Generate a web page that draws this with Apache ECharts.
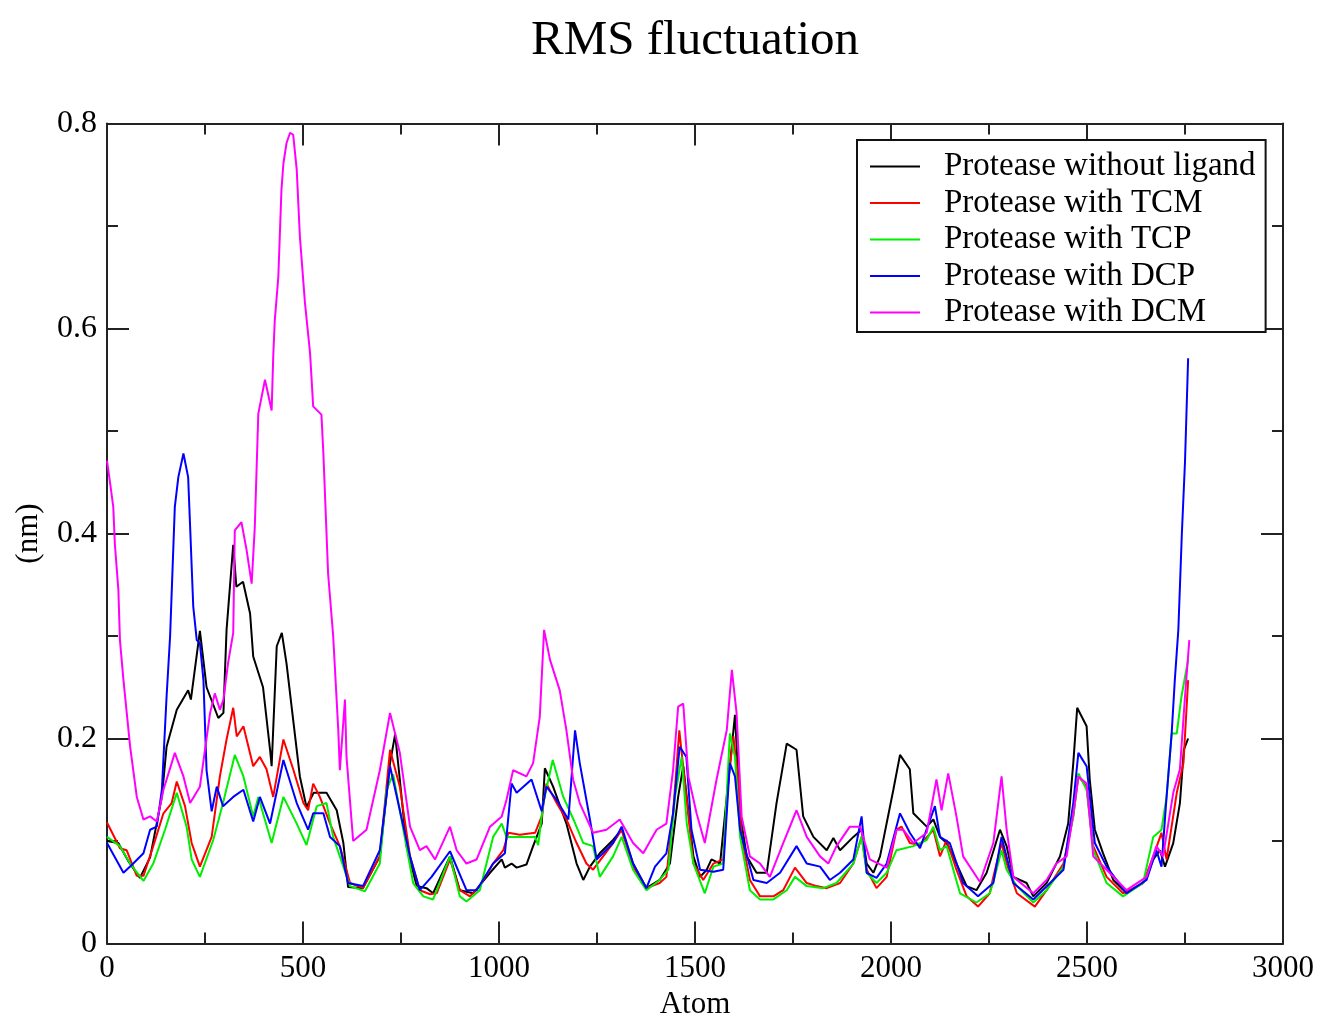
<!DOCTYPE html>
<html>
<head>
<meta charset="utf-8">
<script src="https://cdn.jsdelivr.net/npm/echarts@6/dist/echarts.min.js"></script>
<style>html,body{margin:0;padding:0;background:#fff;}#c{width:1319px;height:1016px;}</style>
</head>
<body>
<div id="c"></div>
<script>
const seriesNames = ["Protease without ligand","Protease with TCM","Protease with TCP","Protease with DCP","Protease with DCM"];
const xTicks = [0,500,1000,1500,2000,2500,3000];
const yTicks = [0,0.2,0.4,0.6,0.8];

const noLigand = [[0,0.100],[29,0.098],[55,0.080],[84,0.064],[110,0.084],[140,0.143],[152,0.192],[178,0.228],[207,0.247],[214,0.238],[237,0.305],[254,0.250],[284,0.220],[297,0.225],[305,0.306],[322,0.389],[330,0.348],[347,0.353],[365,0.322],[373,0.280],[398,0.250],[416,0.189],[420,0.173],[433,0.290],[446,0.303],[458,0.273],[475,0.218],[492,0.163],[509,0.133],[527,0.147],[560,0.147],[586,0.130],[603,0.098],[615,0.055],[653,0.054],[696,0.085],[722,0.176],[735,0.204],[747,0.160],[764,0.095],[790,0.056],[815,0.054],[832,0.049],[875,0.085],[900,0.052],[934,0.049],[977,0.069],[1007,0.082],[1015,0.074],[1032,0.078],[1045,0.074],[1070,0.077],[1087,0.095],[1109,0.117],[1117,0.171],[1138,0.153],[1172,0.117],[1198,0.078],[1215,0.062],[1232,0.075],[1257,0.088],[1291,0.101],[1313,0.111],[1342,0.078],[1376,0.054],[1410,0.062],[1436,0.078],[1457,0.143],[1470,0.173],[1479,0.143],[1496,0.085],[1513,0.065],[1530,0.072],[1542,0.082],[1564,0.078],[1581,0.143],[1602,0.223],[1615,0.127],[1632,0.085],[1657,0.069],[1683,0.069],[1708,0.137],[1734,0.195],[1759,0.189],[1776,0.124],[1802,0.104],[1836,0.091],[1853,0.103],[1870,0.091],[1904,0.104],[1925,0.111],[1938,0.078],[1955,0.069],[1972,0.085],[2006,0.150],[2023,0.184],[2048,0.170],[2057,0.127],[2091,0.114],[2108,0.121],[2125,0.104],[2142,0.098],[2167,0.078],[2193,0.056],[2218,0.052],[2244,0.069],[2278,0.111],[2295,0.095],[2312,0.065],[2346,0.059],[2363,0.046],[2397,0.059],[2431,0.085],[2452,0.117],[2465,0.176],[2475,0.230],[2499,0.212],[2507,0.160],[2520,0.111],[2541,0.088],[2567,0.062],[2601,0.049],[2643,0.059],[2669,0.082],[2686,0.091],[2699,0.075],[2720,0.098],[2737,0.137],[2747,0.189],[2758,0.200]];

const withTCM = [[0,0.118],[33,0.093],[50,0.091],[76,0.066],[93,0.066],[118,0.095],[144,0.127],[165,0.137],[178,0.158],[199,0.134],[216,0.098],[237,0.075],[267,0.104],[288,0.163],[305,0.199],[322,0.230],[331,0.202],[348,0.212],[373,0.173],[390,0.182],[407,0.170],[424,0.143],[450,0.199],[475,0.170],[501,0.137],[513,0.130],[526,0.156],[543,0.143],[569,0.117],[594,0.095],[620,0.059],[653,0.054],[696,0.085],[722,0.189],[747,0.153],[773,0.085],[798,0.052],[824,0.048],[841,0.049],[875,0.082],[900,0.052],[926,0.046],[951,0.056],[985,0.078],[1011,0.091],[1024,0.108],[1053,0.106],[1092,0.108],[1109,0.124],[1121,0.156],[1147,0.137],[1172,0.121],[1198,0.098],[1223,0.078],[1240,0.072],[1291,0.098],[1313,0.111],[1342,0.075],[1376,0.054],[1410,0.059],[1427,0.065],[1444,0.127],[1460,0.208],[1478,0.143],[1496,0.078],[1521,0.062],[1547,0.078],[1572,0.082],[1585,0.160],[1598,0.202],[1610,0.160],[1619,0.104],[1640,0.062],[1666,0.046],[1700,0.046],[1725,0.052],[1755,0.074],[1785,0.059],[1810,0.056],[1836,0.054],[1870,0.059],[1904,0.078],[1925,0.104],[1938,0.072],[1963,0.054],[1989,0.065],[2014,0.111],[2027,0.114],[2048,0.098],[2074,0.096],[2108,0.111],[2125,0.085],[2142,0.101],[2167,0.072],[2193,0.046],[2222,0.036],[2252,0.049],[2261,0.065],[2282,0.098],[2295,0.078],[2321,0.049],[2367,0.036],[2397,0.052],[2440,0.078],[2465,0.124],[2478,0.163],[2499,0.153],[2516,0.095],[2550,0.065],[2592,0.049],[2643,0.059],[2669,0.085],[2690,0.108],[2703,0.082],[2729,0.147],[2746,0.176],[2758,0.257]];

const withTCP = [[0,0.104],[33,0.095],[59,0.078],[93,0.061],[118,0.078],[148,0.111],[178,0.147],[203,0.114],[216,0.082],[237,0.065],[271,0.101],[296,0.137],[326,0.184],[348,0.163],[373,0.124],[386,0.143],[420,0.098],[450,0.143],[484,0.117],[509,0.096],[535,0.134],[560,0.137],[577,0.104],[594,0.085],[620,0.056],[658,0.051],[696,0.078],[713,0.150],[730,0.165],[756,0.111],[781,0.059],[807,0.046],[832,0.043],[875,0.085],[900,0.046],[917,0.041],[951,0.052],[985,0.104],[1007,0.117],[1019,0.104],[1053,0.104],[1092,0.104],[1100,0.096],[1113,0.137],[1137,0.179],[1164,0.143],[1190,0.121],[1215,0.098],[1240,0.095],[1257,0.065],[1291,0.085],[1313,0.104],[1342,0.072],[1376,0.052],[1410,0.062],[1432,0.072],[1449,0.143],[1466,0.182],[1479,0.117],[1496,0.078],[1525,0.049],[1547,0.075],[1572,0.078],[1589,0.205],[1602,0.182],[1615,0.104],[1640,0.052],[1666,0.043],[1700,0.043],[1734,0.052],[1755,0.065],[1785,0.056],[1827,0.054],[1861,0.059],[1904,0.078],[1925,0.104],[1938,0.069],[1963,0.059],[1989,0.069],[2014,0.091],[2057,0.095],[2091,0.101],[2108,0.114],[2125,0.091],[2142,0.095],[2176,0.049],[2218,0.040],[2252,0.049],[2261,0.060],[2282,0.091],[2295,0.072],[2321,0.056],[2363,0.040],[2397,0.052],[2440,0.075],[2465,0.124],[2478,0.166],[2499,0.150],[2516,0.091],[2550,0.059],[2592,0.046],[2643,0.059],[2669,0.104],[2690,0.111],[2703,0.143],[2716,0.205],[2729,0.205],[2741,0.241],[2758,0.277]];

const withDCP = [[0,0.098],[42,0.069],[67,0.078],[93,0.088],[110,0.111],[127,0.114],[140,0.150],[152,0.241],[161,0.300],[173,0.426],[182,0.455],[195,0.478],[207,0.455],[212,0.407],[220,0.329],[229,0.296],[237,0.293],[246,0.257],[254,0.169],[267,0.129],[280,0.153],[296,0.134],[322,0.143],[348,0.150],[373,0.119],[390,0.143],[416,0.117],[450,0.179],[484,0.137],[513,0.111],[526,0.127],[552,0.127],[569,0.104],[594,0.095],[615,0.059],[653,0.056],[696,0.091],[722,0.173],[747,0.130],[773,0.085],[798,0.052],[828,0.065],[875,0.090],[917,0.052],[943,0.052],[985,0.078],[1015,0.088],[1032,0.156],[1045,0.147],[1083,0.160],[1109,0.129],[1121,0.153],[1147,0.140],[1177,0.121],[1194,0.208],[1206,0.176],[1232,0.121],[1249,0.082],[1291,0.098],[1313,0.114],[1342,0.078],[1376,0.054],[1398,0.075],[1427,0.088],[1444,0.127],[1461,0.192],[1478,0.182],[1491,0.111],[1513,0.072],[1547,0.070],[1572,0.072],[1589,0.176],[1602,0.163],[1615,0.111],[1649,0.062],[1683,0.059],[1717,0.069],[1759,0.095],[1785,0.078],[1819,0.075],[1844,0.062],[1870,0.069],[1904,0.082],[1925,0.124],[1938,0.069],[1963,0.064],[1989,0.078],[2023,0.127],[2048,0.108],[2074,0.093],[2112,0.134],[2125,0.104],[2150,0.098],[2184,0.059],[2222,0.046],[2261,0.059],[2282,0.104],[2312,0.059],[2363,0.043],[2440,0.072],[2465,0.137],[2478,0.186],[2499,0.173],[2520,0.098],[2550,0.075],[2601,0.049],[2652,0.062],[2677,0.091],[2690,0.075],[2703,0.143],[2716,0.205],[2724,0.257],[2733,0.306],[2742,0.400],[2750,0.470],[2758,0.571]];

const withDCM = [[0,0.471],[8,0.449],[16,0.426],[20,0.390],[29,0.345],[33,0.296],[42,0.257],[59,0.192],[76,0.143],[93,0.121],[110,0.124],[127,0.119],[144,0.150],[173,0.186],[195,0.163],[212,0.137],[237,0.153],[263,0.225],[275,0.244],[288,0.228],[297,0.238],[309,0.274],[322,0.303],[326,0.403],[343,0.411],[356,0.384],[369,0.351],[377,0.406],[386,0.517],[403,0.550],[420,0.520],[424,0.572],[428,0.608],[437,0.650],[445,0.735],[450,0.761],[458,0.781],[467,0.791],[475,0.789],[484,0.755],[492,0.690],[505,0.625],[518,0.576],[526,0.524],[547,0.516],[552,0.478],[564,0.361],[577,0.300],[590,0.208],[594,0.169],[607,0.238],[611,0.182],[628,0.100],[662,0.111],[696,0.169],[722,0.225],[747,0.186],[773,0.114],[798,0.091],[815,0.095],[837,0.082],[875,0.114],[892,0.091],[917,0.078],[943,0.082],[977,0.114],[1007,0.124],[1019,0.140],[1036,0.169],[1070,0.163],[1087,0.176],[1104,0.221],[1115,0.306],[1130,0.277],[1155,0.247],[1172,0.208],[1189,0.160],[1206,0.137],[1240,0.108],[1274,0.111],[1308,0.121],[1342,0.098],[1368,0.088],[1402,0.111],[1427,0.117],[1444,0.169],[1457,0.231],[1470,0.234],[1483,0.163],[1504,0.127],[1525,0.098],[1555,0.160],[1581,0.208],[1594,0.267],[1606,0.225],[1619,0.124],[1640,0.085],[1666,0.078],[1691,0.065],[1725,0.098],[1759,0.130],[1785,0.104],[1819,0.085],[1840,0.078],[1861,0.095],[1895,0.114],[1921,0.114],[1946,0.082],[1989,0.074],[2014,0.111],[2031,0.111],[2057,0.098],[2091,0.108],[2116,0.160],[2129,0.130],[2146,0.166],[2167,0.124],[2184,0.085],[2227,0.060],[2261,0.098],[2282,0.163],[2295,0.111],[2312,0.065],[2363,0.049],[2397,0.062],[2422,0.078],[2448,0.085],[2465,0.127],[2478,0.163],[2499,0.156],[2516,0.085],[2550,0.072],[2601,0.052],[2652,0.065],[2677,0.095],[2694,0.085],[2720,0.147],[2737,0.170],[2750,0.241],[2761,0.296]];

const seriesData = [noLigand, withTCM, withTCP, withDCP, withDCM];
const colors = ["#000000","#ff0000","#00ee00","#0000ff","#ff00ff"];

const FONT = "Liberation Serif";
const axisCol = "#222";

function xAxisCfg(pos, showLabels){
  return {
    type:'value', position: pos, min: xTicks[0], max: xTicks[xTicks.length-1], interval: 500,
    name: showLabels ? 'Atom' : '', nameLocation:'middle', nameGap: 45,
    nameTextStyle:{fontFamily:FONT,fontSize:31,color:'#000'},
    axisLine:{show:true,onZero:false,lineStyle:{color:axisCol,width:2}},
    axisTick:{show:true,inside:true,length:22,lineStyle:{color:axisCol,width:2}},
    minorTick:{show:true,splitNumber:2,length:11,lineStyle:{color:axisCol,width:2}},
    axisLabel:{show:showLabels,fontFamily:FONT,fontSize:31,color:'#000',margin:10,
      formatter:function(v){return String(v);}},
    splitLine:{show:false}, minorSplitLine:{show:false}
  };
}
function yAxisCfg(pos, showLabels){
  return {
    type:'value', position: pos, min: yTicks[0], max: yTicks[yTicks.length-1], interval: 0.2,
    name: showLabels ? '(nm)' : '', nameLocation:'middle', nameGap: 63, nameRotate: 90,
    nameTextStyle:{fontFamily:FONT,fontSize:31,color:'#000'},
    axisLine:{show:true,onZero:false,lineStyle:{color:axisCol,width:2}},
    axisTick:{show:true,inside:true,length:22,lineStyle:{color:axisCol,width:2}},
    minorTick:{show:true,splitNumber:2,length:11,lineStyle:{color:axisCol,width:2}},
    axisLabel:{show:showLabels,fontFamily:FONT,fontSize:32,color:'#000',margin:10,
      formatter:function(v){return v===0?'0':v.toFixed(1);}},
    splitLine:{show:false}, minorSplitLine:{show:false}
  };
}

const chart = echarts.init(document.getElementById('c'), null, {renderer:'canvas'});
chart.setOption({
  backgroundColor:'#ffffff',
  animation:false,
  title:{text:'RMS fluctuation',left:526,top:12,
    textStyle:{fontFamily:FONT,fontSize:49,fontWeight:'normal',color:'#000'}},
  grid:{left:107,right:36,top:123.5,bottom:72.5,containLabel:false,outerBoundsMode:'none'},
  legend:{
    orient:'vertical', left:857, top:140,
    backgroundColor:'#fff', borderColor:'#111', borderWidth:2,
    padding:[10,10,3,13], itemGap:3.5,
    itemWidth:50, itemHeight:2, icon:'rect',
    textStyle:{fontFamily:FONT,fontSize:33,color:'#000',padding:[0,0,0,19]},
    data: seriesNames
  },
  xAxis:[xAxisCfg('bottom',true), xAxisCfg('top',false)],
  yAxis:[yAxisCfg('left',true), yAxisCfg('right',false)],
  series: seriesNames.map(function(n,i){
    return {name:n,type:'line',xAxisIndex:0,yAxisIndex:0,data:seriesData[i],
      showSymbol:false,symbol:'none',smooth:false,
      lineStyle:{color:colors[i],width:2},itemStyle:{color:colors[i]}};
  })
});
</script>
</body>
</html>
